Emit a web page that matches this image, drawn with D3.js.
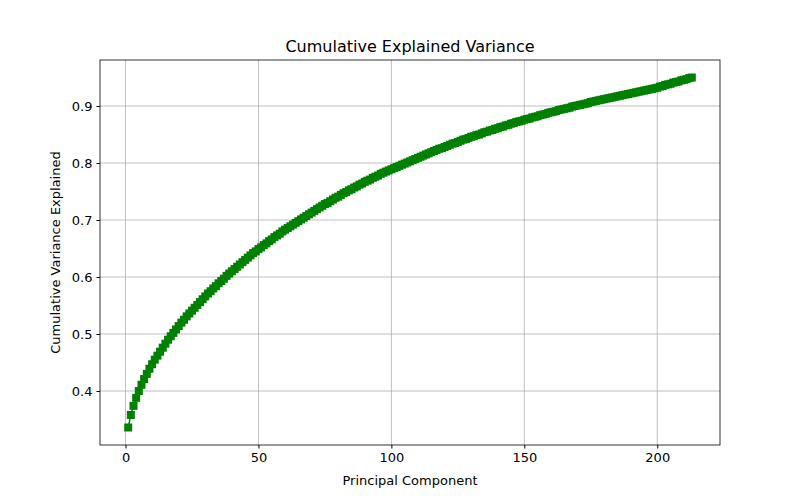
<!DOCTYPE html>
<html><head><meta charset="utf-8">
<script src="https://cdn.jsdelivr.net/npm/d3@7"></script>
<style>body{margin:0;background:#fff}text{font-family:"DejaVu Sans",sans-serif}</style>
</head><body><svg id="chart" width="800" height="500"></svg>
<script>
// cumulative explained variance, components 1..213
var variance = [
 0.336,0.358,0.374,0.388,0.400,0.411,0.421,0.430,0.439,0.447,
 0.455,0.462,0.469,0.476,0.483,0.490,0.496,0.502,0.508,0.514,
 0.520,0.525,0.531,0.536,0.541,0.546,0.551,0.556,0.561,0.566,
 0.571,0.575,0.580,0.584,0.589,0.593,0.597,0.602,0.606,0.610,
 0.614,0.618,0.622,0.626,0.630,0.634,0.638,0.642,0.645,0.649,
 0.652,0.656,0.659,0.663,0.666,0.670,0.673,0.676,0.680,0.683,
 0.686,0.689,0.692,0.695,0.698,0.701,0.704,0.707,0.710,0.713,
 0.716,0.719,0.722,0.725,0.728,0.730,0.733,0.736,0.739,0.741,
 0.744,0.747,0.749,0.752,0.754,0.757,0.759,0.762,0.764,0.767,
 0.769,0.771,0.774,0.776,0.778,0.781,0.783,0.785,0.787,0.789,
 0.791,0.793,0.795,0.797,0.799,0.801,0.803,0.805,0.807,0.809,
 0.811,0.813,0.815,0.817,0.819,0.821,0.823,0.825,0.826,0.828,
 0.830,0.832,0.834,0.835,0.837,0.839,0.841,0.842,0.844,0.846,
 0.847,0.849,0.850,0.852,0.854,0.855,0.857,0.858,0.860,0.861,
 0.863,0.864,0.866,0.867,0.869,0.870,0.872,0.873,0.874,0.876,
 0.877,0.878,0.880,0.881,0.882,0.884,0.885,0.886,0.888,0.889,
 0.890,0.891,0.893,0.894,0.895,0.896,0.897,0.899,0.900,0.901,
 0.902,0.903,0.904,0.905,0.907,0.908,0.909,0.910,0.911,0.912,
 0.913,0.914,0.915,0.916,0.917,0.918,0.919,0.920,0.921,0.922,
 0.923,0.924,0.925,0.926,0.927,0.928,0.929,0.930,0.931,0.932,
 0.934,0.935,0.937,0.938,0.939,0.941,0.942,0.943,0.945,0.946,
 0.947,0.949,0.950
];
var xTicks = [0, 50, 100, 150, 200];
var yTicks = [0.4, 0.5, 0.6, 0.7, 0.8, 0.9];

var svg = d3.select("#chart");
var mLeft = 100, mRight = 720, mTop = 60, mBottom = 445;
var n = variance.length;
var xpad = (n - 1) * 0.05;
var x = d3.scaleLinear().domain([1 - xpad, n + xpad]).range([mLeft, mRight]);
var ymin = d3.min(variance), ymax = d3.max(variance), ypad = (ymax - ymin) * 0.05;
var y = d3.scaleLinear().domain([ymin - ypad, ymax + ypad]).range([mBottom, mTop]);

// grid
svg.append("g").selectAll("line").data(xTicks).enter().append("line")
  .attr("x1", d => x(d)).attr("x2", d => x(d)).attr("y1", mTop).attr("y2", mBottom)
  .attr("stroke", "#b0b0b0").attr("stroke-width", 0.8);
svg.append("g").selectAll("line").data(yTicks).enter().append("line")
  .attr("y1", d => y(d)).attr("y2", d => y(d)).attr("x1", mLeft).attr("x2", mRight)
  .attr("stroke", "#b0b0b0").attr("stroke-width", 0.8);

var line = d3.line().x((d, i) => x(i + 1)).y(d => y(d));
svg.append("path").datum(variance).attr("d", line)
  .attr("fill", "none").attr("stroke", "green").attr("stroke-width", 1.5);
svg.append("g").selectAll("rect").data(variance).enter().append("rect")
  .attr("x", (d, i) => x(i + 1) - 4).attr("y", d => y(d) - 4)
  .attr("width", 8).attr("height", 8).attr("fill", "green");

// axes
var xAxis = svg.append("g").attr("transform", "translate(0," + mBottom + ")")
  .call(d3.axisBottom(x).tickValues(xTicks).tickSize(3.5).tickPadding(4));
var yAxis = svg.append("g").attr("transform", "translate(" + mLeft + ",0)")
  .call(d3.axisLeft(y).tickValues(yTicks).tickFormat(d3.format(".1f")).tickSize(3.5).tickPadding(4));
[xAxis, yAxis].forEach(function (a) {
  a.select(".domain").remove();
  a.selectAll("text").attr("font-size", 13).attr("fill", "#000").style("font-family", "DejaVu Sans");
  a.selectAll("line").attr("stroke", "#000");
});
svg.append("rect").attr("x", mLeft).attr("y", mTop).attr("width", mRight - mLeft).attr("height", mBottom - mTop)
  .attr("fill", "none").attr("stroke", "#000").attr("stroke-width", 0.8);

svg.append("text").attr("x", (mLeft + mRight) / 2).attr("y", 52).attr("text-anchor", "middle")
  .attr("font-size", 16).text("Cumulative Explained Variance");
svg.append("text").attr("x", (mLeft + mRight) / 2).attr("y", 485).attr("text-anchor", "middle")
  .attr("font-size", 13).text("Principal Component");
svg.append("text").attr("transform", "translate(60," + (mTop + mBottom) / 2 + ") rotate(-90)")
  .attr("text-anchor", "middle").attr("font-size", 13).text("Cumulative Variance Explained");
</script></body></html>
